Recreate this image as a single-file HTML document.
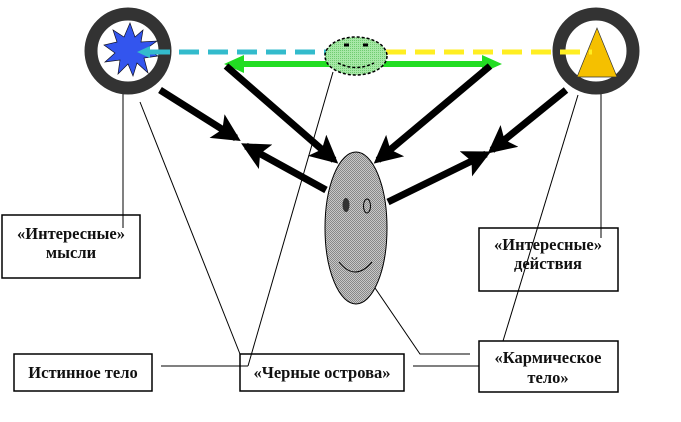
<!DOCTYPE html>
<html><head><meta charset="utf-8"><style>
body{margin:0;background:#fff;width:681px;height:417px;overflow:hidden}
svg text{font-family:"Liberation Serif","DejaVu Serif",serif;font-weight:bold;font-size:16.5px;fill:#111}
</style></head><body>
<svg width="681" height="417" viewBox="0 0 681 417" xmlns="http://www.w3.org/2000/svg">
<defs>
<pattern id="hatch" width="2" height="2" patternUnits="userSpaceOnUse"><rect width="2" height="2" fill="#c8c8c8"/><rect width="1" height="1" fill="#888"/><rect x="1" y="1" width="1" height="1" fill="#888"/></pattern>
<pattern id="ghatch" width="2" height="2" patternUnits="userSpaceOnUse"><rect width="2" height="2" fill="#a8e8a8"/><rect width="1" height="1" fill="#70cc70"/></pattern>
<marker id="ah" markerWidth="4" markerHeight="4" refX="3.2" refY="2" orient="auto" markerUnits="strokeWidth"><path d="M0,0 L4,2 L0,4 L0.9,2 Z" fill="#000"/></marker>
</defs>
<g fill="#fff" stroke="#000" stroke-width="1.5">
<rect x="2" y="215" width="138" height="63"/>
<rect x="14" y="354" width="138" height="37"/>
<rect x="240" y="354" width="164" height="37"/>
<rect x="479" y="228" width="139" height="63"/>
<rect x="479" y="341" width="139" height="51"/>
</g>
<g stroke="#000" stroke-width="1" fill="none">
<path d="M123,62 V228"/>
<path d="M140,102 L240,354"/>
<path d="M333,72 L248,366"/>
<path d="M161,366 H248"/>
<path d="M373,285 L420,354 H470"/>
<path d="M413,366 H479"/>
<path d="M578,95 L503,341"/>
<path d="M601,65 V238"/>
</g>
<circle cx="128" cy="51" r="37" fill="#fff" stroke="#333" stroke-width="13"/>
<circle cx="596" cy="51" r="37" fill="#fff" stroke="#333" stroke-width="13"/>
<polygon fill="#3355ee" stroke="#112" stroke-width="0.7" points="130,23 135,37 143,30 141,42 157,41 146,49 158,56 144,58 148,73 137,63 133,76 128,64 118,74 120,60 105,62 115,53 104,45 117,42 113,30 124,37"/>
<polygon fill="#f5c000" stroke="#333" stroke-width="0.7" points="597,28 577,77 617,77"/>
<line x1="150" y1="52" x2="330" y2="52" stroke="#33bbcc" stroke-width="5" stroke-dasharray="20,9"/>
<polygon points="137,52 150,46 150,58" fill="#33bbcc"/>
<line x1="386" y1="52" x2="592" y2="52" stroke="#ffee22" stroke-width="5" stroke-dasharray="20,9"/>
<line x1="240" y1="64" x2="485" y2="64" stroke="#22dd22" stroke-width="6"/>
<polygon points="224,64 244,55 244,73" fill="#22dd22"/>
<polygon points="502,64 482,55 482,73" fill="#22dd22"/>
<ellipse cx="356" cy="56" rx="31" ry="19" fill="url(#ghatch)" stroke="#000" stroke-width="1.5" stroke-dasharray="3,2"/>
<path d="M344,45h5M363,45h5" stroke="#000" stroke-width="3"/>
<path d="M338,63 Q356,72 374,63" stroke="#000" stroke-width="1.5" fill="none" stroke-dasharray="3,2"/>
<g stroke="#000" stroke-width="7" fill="none">
<line x1="160" y1="90" x2="236" y2="138" marker-end="url(#ah)"/>
<line x1="326" y1="190" x2="246" y2="146" marker-end="url(#ah)"/>
<line x1="226" y1="66" x2="334" y2="160" marker-end="url(#ah)"/>
<line x1="490" y1="66" x2="378" y2="160" marker-end="url(#ah)"/>
<line x1="566" y1="90" x2="492" y2="150" marker-end="url(#ah)"/>
<line x1="388" y1="202" x2="486" y2="154" marker-end="url(#ah)"/>
</g>
<ellipse cx="356" cy="228" rx="31" ry="76" fill="url(#hatch)" stroke="#000" stroke-width="1"/>
<ellipse cx="346" cy="205" rx="3.5" ry="7" fill="#333"/>
<ellipse cx="367" cy="206" rx="3.5" ry="7" fill="none" stroke="#000" stroke-width="1"/>
<path d="M339,262 Q355,282 372,262" stroke="#000" stroke-width="1" fill="none"/>
<text x="71" y="239" text-anchor="middle">«Интересные»</text>
<text x="71" y="258" text-anchor="middle">мысли</text>
<text x="83" y="378" text-anchor="middle">Истинное тело</text>
<text x="322" y="378" text-anchor="middle">«Черные острова»</text>
<text x="548" y="250" text-anchor="middle">«Интересные»</text>
<text x="548" y="269" text-anchor="middle">действия</text>
<text x="548" y="363" text-anchor="middle">«Кармическое</text>
<text x="548" y="383" text-anchor="middle">тело»</text>
</svg>
</body></html>
